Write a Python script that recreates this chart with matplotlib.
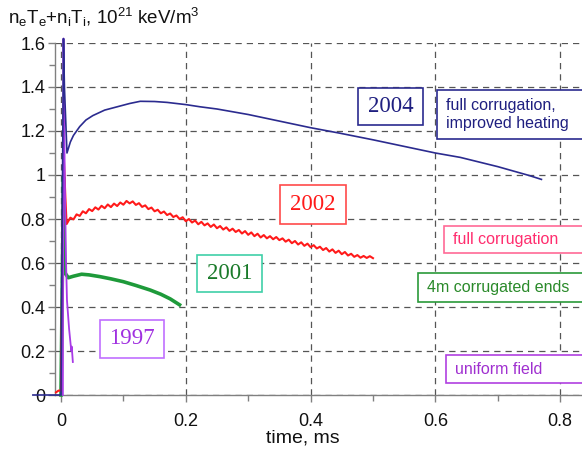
import matplotlib
matplotlib.use("Agg")
import matplotlib.pyplot as plt
from matplotlib.patches import Rectangle
from matplotlib.ticker import MultipleLocator, FormatStrFormatter

plt.rcParams['font.family'] = ['Liberation Sans', 'DejaVu Sans']
plt.rcParams['mathtext.default'] = 'regular'

# ---------------- data ----------------
t2004 = [-0.045, 0.0, 0.004, 0.0055, 0.0096, 0.015, 0.02, 0.03, 0.04, 0.051, 0.07, 0.09,
         0.11, 0.127, 0.15, 0.17, 0.2, 0.223, 0.25, 0.3, 0.35, 0.4, 0.447, 0.5, 0.55,
         0.6, 0.64, 0.7, 0.75, 0.77]
v2004 = [0.0, 0.0, 1.62, 1.40, 1.10, 1.15, 1.18, 1.22, 1.25, 1.27, 1.295, 1.31,
         1.325, 1.335, 1.334, 1.33, 1.32, 1.31, 1.30, 1.275, 1.245, 1.215, 1.19, 1.16, 1.13,
         1.10, 1.08, 1.038, 0.998, 0.98]

t2002 = [-0.008, -0.004, 0.0, 0.004, 0.007, 0.009,
         0.015, 0.02, 0.025, 0.03, 0.035, 0.04, 0.045, 0.05, 0.055, 0.06, 0.065, 0.07, 0.075,
         0.08, 0.085, 0.09, 0.095, 0.10, 0.105, 0.11, 0.115, 0.12, 0.125, 0.13, 0.135, 0.14,
         0.145, 0.15, 0.155, 0.16, 0.165, 0.17, 0.175, 0.18, 0.185, 0.19, 0.195, 0.20,
         0.205, 0.21, 0.215, 0.22, 0.225, 0.23, 0.235, 0.24, 0.245, 0.25, 0.255, 0.26,
         0.265, 0.27, 0.275, 0.28, 0.285, 0.29, 0.295, 0.30, 0.305, 0.31, 0.315, 0.32,
         0.325, 0.33, 0.335, 0.34, 0.345, 0.35, 0.355, 0.36, 0.365, 0.37, 0.375, 0.38,
         0.385, 0.39, 0.395, 0.40, 0.405, 0.41, 0.415, 0.42, 0.425, 0.43, 0.435, 0.44,
         0.445, 0.45, 0.455, 0.46, 0.465, 0.47, 0.475, 0.48, 0.485, 0.49, 0.495, 0.50]
v2002 = [0.012, 0.02, 0.02, 1.12, 0.90, 0.777,
         0.806, 0.798, 0.821, 0.814, 0.835, 0.826, 0.845, 0.836, 0.853, 0.843, 0.86, 0.849, 0.866,
         0.854, 0.87, 0.859, 0.875, 0.865, 0.882, 0.871, 0.88, 0.864, 0.872, 0.855, 0.862, 0.845,
         0.852, 0.835, 0.842, 0.826, 0.834, 0.818, 0.825, 0.809, 0.816, 0.8, 0.808, 0.79,
         0.8, 0.784, 0.793, 0.776, 0.787, 0.771, 0.78, 0.764, 0.775, 0.758, 0.768, 0.752,
         0.762, 0.746, 0.756, 0.741, 0.75, 0.734, 0.745, 0.728, 0.739, 0.722, 0.733, 0.716,
         0.727, 0.712, 0.722, 0.708, 0.718, 0.704, 0.712, 0.697, 0.706, 0.69, 0.7, 0.684,
         0.694, 0.678, 0.688, 0.672, 0.681, 0.666, 0.674, 0.659, 0.668, 0.652, 0.662, 0.646,
         0.656, 0.64, 0.65, 0.634, 0.642, 0.628, 0.636, 0.624, 0.632, 0.623, 0.631, 0.622]

t2001 = [0.0, 0.004, 0.0055, 0.0064, 0.0117, 0.02, 0.033, 0.045, 0.0625, 0.08, 0.1,
         0.12, 0.143, 0.16, 0.175, 0.19]
v2001 = [0.0, 0.99, 0.62, 0.555, 0.533, 0.54, 0.549, 0.546, 0.538, 0.528, 0.515,
         0.498, 0.477, 0.458, 0.437, 0.41]

t1997 = [0.003, 0.004, 0.005, 0.006, 0.008, 0.0096, 0.013, 0.0165, 0.0172, 0.019]
v1997 = [0.0, 1.62, 1.30, 1.00, 0.62, 0.43, 0.30, 0.20, 0.22, 0.15]

years = ["2004", "2002", "2001", "1997"]
descriptions = ["full corrugation,\nimproved heating", "full corrugation",
                "4m corrugated ends", "uniform field"]

# ---------------- figure ----------------
W, H = 582, 454
fig = plt.figure(figsize=(W / 100, H / 100), dpi=100)
L, R, B, T = 55, 582, 395, 43
ax = fig.add_axes([L / W, 1 - B / H, (R - L) / W, (B - T) / H])

ax.set_xlim(-0.0096, 0.835)
ax.set_ylim(0, 1.6)

c_blue = '#2b2b8f'
c_red = '#ff1a1a'
c_green = '#1e9a3a'
c_purple = '#a83ae6'

ax.plot(t2001, v2001, color=c_green, lw=2.6, zorder=3, clip_on=False)
ax.plot(t2002, v2002, color=c_red, lw=1.5, zorder=4, clip_on=False)
ax.plot(t1997, v1997, color=c_purple, lw=1.3, zorder=5, clip_on=False)
ax.plot(t2004, v2004, color=c_blue, lw=1.2, zorder=6, clip_on=False)

# grid & axes styling
ax.xaxis.set_major_locator(MultipleLocator(0.2))
ax.xaxis.set_minor_locator(MultipleLocator(0.1))
ax.yaxis.set_major_locator(MultipleLocator(0.2))
ax.yaxis.set_minor_locator(MultipleLocator(0.1))
ax.xaxis.set_major_formatter(FormatStrFormatter('%g'))
ax.yaxis.set_major_formatter(FormatStrFormatter('%g'))
ax.grid(True, which='major', color='#555555', lw=0.9, ls=(0, (5, 4)), zorder=1)
for s in ['top', 'right']:
    ax.spines[s].set_visible(False)
for s in ['left', 'bottom']:
    ax.spines[s].set_color('#808080')
    ax.spines[s].set_linewidth(1.0)
ax.tick_params(which='major', direction='out', length=5, width=1, color='#808080',
               labelsize=13, labelcolor='#111111')
ax.tick_params(which='minor', direction='out', length=4, width=1, color='#808080')
ax.tick_params(axis='x', which='major', pad=8)
ax.tick_params(axis='y', which='major', pad=2)

# title / xlabel
fig.text(8 / W, 1 - 17 / H, r'n$_e$T$_e$+n$_i$T$_i$, 10$^{21}$ keV/m$^3$',
         fontsize=13.5, ha='left', va='center', color='#111111')
fig.text(303 / W, 1 - 438 / H, 'time, ms', fontsize=14, ha='center', va='center',
         color='#111111')


def box(x0, y0, x1, y1, ec, lw=1.2):
    fig.patches.append(Rectangle((x0 / W, 1 - y1 / H), (x1 - x0) / W, (y1 - y0) / H,
                                 transform=fig.transFigure, facecolor='white',
                                 edgecolor=ec, lw=lw, zorder=10))


# year boxes (pixel coordinates)
year_boxes = [(358, 88, 423, 125, '#2b2b8f', '#1f1f80'),
              (280, 185, 346, 224, '#ff4a4a', '#ff1a1a'),
              (197, 255, 262, 292, '#3fd0a8', '#1a7a2a'),
              (100, 320, 164, 358, '#c070ff', '#a030e0')]
for (x0, y0, x1, y1, ec, tc), yr in zip(year_boxes, years):
    box(x0, y0, x1, y1, ec)
    fig.text((x0 + x1) / 2 / W, 1 - (y0 + y1) / 2 / H, yr, fontsize=16.5,
             family='Liberation Serif', color=tc, ha='center', va='center', zorder=11)

# description boxes
desc_boxes = [(437, 90, 600, 139, 446, '#2b2b8f', '#1f1f80'),
              (444, 226, 600, 253, 453, '#ff6a96', '#ff2d6e'),
              (418, 273, 600, 302, 427, '#2a9a3a', '#2a8a2a'),
              (446, 355, 600, 383, 455, '#b040e0', '#a030d0')]
for (x0, y0, x1, y1, tx, ec, tc), d in zip(desc_boxes, descriptions):
    box(x0, y0, x1, y1, ec)
    fig.text(tx / W, 1 - (y0 + y1) / 2 / H, d, fontsize=11.5, color=tc,
             ha='left', va='center', zorder=11, linespacing=1.2)

fig.savefig('out.png', dpi=100)
